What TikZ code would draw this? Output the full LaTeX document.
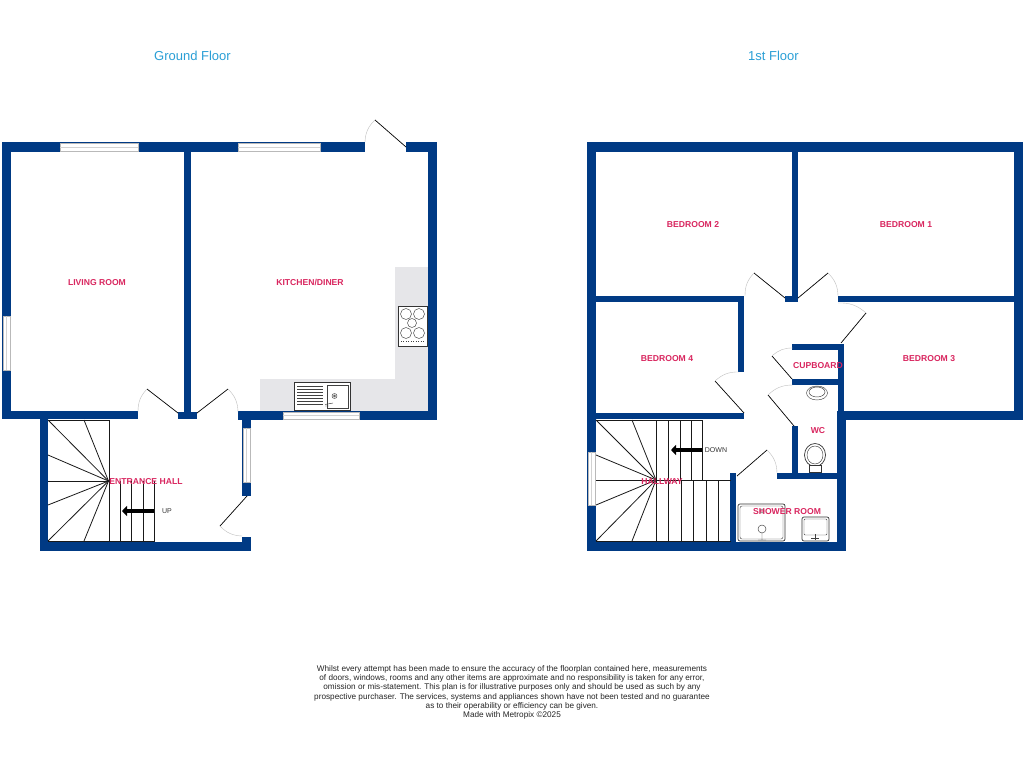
\documentclass[tikz,border=0pt]{standalone}
\usepackage{fontspec}
\setmainfont{Liberation Sans}
\usetikzlibrary{arrows.meta}
\definecolor{wallblue}{HTML}{003A84}
\definecolor{counter}{HTML}{E6E6E9}
\definecolor{titleblue}{HTML}{2A9FD6}
\definecolor{roomred}{HTML}{D9265F}
\tikzset{
    wall/.style={fill=wallblue,draw=none},
    windowpane/.style={fill=white,draw=gray!55,line width=0.8pt},
    doorleaf/.style={black,line width=0.7pt},
    doorswing/.style={gray!50,line width=0.4pt},
    tread/.style={black!90,line width=0.8pt},
    fitting/.style={black!80,line width=0.7pt,fill=white},
    fittingthin/.style={black!75,line width=0.45pt},
    flight/.style={-{Triangle[length=5pt,width=10pt]},line width=4.5pt,black,shorten <=0pt},
    floortitle/.style={text=titleblue,font=\fontsize{13}{15}\selectfont},
    roomlabel/.style={text=roomred,font=\fontsize{8.6}{10}\selectfont\bfseries,inner sep=0pt},
    stairlabel/.style={text=black!80,font=\fontsize{7}{9}\selectfont,inner sep=0pt},
}
\begin{document}
\begin{tikzpicture}[x=1pt,y=-1pt]
    \useasboundingbox[fill=white] (0,0) rectangle (1024,768);

    \node[floortitle] (groundtitle) at (192.5,55.5) {Ground Floor};
    \node[floortitle] (firsttitle) at (773.5,55.5) {1st Floor};

    % kitchen units
    \fill[counter] (395,267) rectangle (428,411) (260,379) rectangle (395,411);

    % ground floor walls
    \foreach \xa/\ya/\xb/\yb in {2/142/365/152, 406/142/437/152, 2/142/11/419, 428/142/437/420,
        184/152/191/413, 178/412/197/419, 2/411/138/419, 238/411/437/420, 40/411/48/551,
        242/419/251/496, 242/537/251/551, 40/542/251/551}
        \fill[wall] (\xa,\ya) rectangle (\xb,\yb);

    % first floor walls
    \foreach \xa/\ya/\xb/\yb in {587/142/1023/152, 587/142/596/551, 1014/142/1023/420, 587/542/846/551,
        837/411/846/551, 837/411/1023/420, 792/152/798/302, 785/296/798/302, 596/296/744/302,
        838/296/1014/302, 738/296/744/372, 596/413/744/419, 792/344/844/350, 838/344/844/420,
        792/379/838/385, 792/426/798/479, 777/473/837/479, 730/473/736/542}
        \fill[wall] (\xa,\ya) rectangle (\xb,\yb);

    % windows
    \foreach \xa/\ya/\xb/\yb in {60/143/138/151, 238/143/320/151, 283/412/359/419, 3/316/10/370,
        243/428/250/482, 588/452/595/505}
        \draw[windowpane] (\xa,\ya) rectangle (\xb,\yb);
    \foreach \xa/\ya/\xb/\yb in {60/147/138/147, 238/147/320/147, 283/415.5/359/415.5, 6.5/316/6.5/370,
        246.5/428/246.5/482, 591.5/452/591.5/505}
        \draw[gray!35,line width=0.5pt] (\xa,\ya) -- (\xb,\yb);

    % doors: hinge, tip of leaf, end of swing, bend
    \foreach \hx/\hy/\tx/\ty/\ex/\ey/\bnd in {406/147/375/120/365/142/-22, 178/413/147/389/138/412/-22,
        197/413/228/389/238/412/22, 247/496/220/526/242/536/-22, 785/298/754/273/745/296/-22,
        798/298/828/273/838/296/22, 841/343/866/313/838/303/-22, 744/413/715/381/739/372/22,
        792/379/772/356/793/348/22, 794/426/768/395/793/385/22, 737/476/767/450/777/473/22} {
        \draw[doorleaf] (\hx,\hy) -- (\tx,\ty);
        \draw[doorswing] (\tx,\ty) to[bend left=\bnd] (\ex,\ey);
    }

    % ground floor stairs
    \draw[tread] (48,420) -- (109,420) -- (109,541) (48,541) -- (154,541) -- (154,481);
    \foreach \xa/\ya in {48/420, 84/420, 48/455, 48/481, 48/505, 48/541, 84/541}
        \draw[tread] (108.5,481) -- (\xa,\ya);
    \foreach \x in {120,131,143}
        \draw[tread] (\x,481) -- (\x,541);
    \coordinate (upfrom) at (154,511);
    \coordinate (upto) at (122,511);
    \draw[flight] (upfrom) -- (upto);
    \node[stairlabel] (uplabel) at (167,511) {UP};

    % first floor stairs
    \draw[tread] (596,420) -- (702,420) -- (702,480) (596,480) -- (731,480) (596,541) -- (731,541) (656,420) -- (656,541);
    \foreach \xa/\ya in {596/420, 632/420, 596/455, 596/505, 596/541, 632/541}
        \draw[tread] (656,480) -- (\xa,\ya);
    \foreach \x in {668.5,680,691}
        \draw[tread] (\x,420) -- (\x,480);
    \foreach \x in {668.5,681,693,706,718}
        \draw[tread] (\x,480) -- (\x,541);
    \coordinate (downfrom) at (702,450);
    \coordinate (downto) at (671,450);
    \draw[flight] (downfrom) -- (downto);
    \node[stairlabel] (downlabel) at (716,450) {DOWN};

    % hob
    \draw[fitting] (398,306) rectangle (427,346);
    \foreach \cx/\cy/\r in {406/314/5.5, 419/314/5.5, 412/323/4.5, 406/333/5.5, 419/333/5.5}
        \draw[fittingthin] (\cx,\cy) circle (\r);
    \draw[fittingthin,dotted] (401,341.5) -- (424,341.5);

    % sink
    \draw[fitting] (294,382) rectangle (350,410);
    \draw[fittingthin] (327,385) rectangle (348,408);
    \foreach \y in {386,389,392,395,398,401,404}
        \draw[fittingthin] (297,\y) -- (323,\y);
    \draw[fittingthin] (334.5,396) circle (2.5) (334.5,396) circle (1);
    \draw[fittingthin] (325,404.5) -- (333,403) (325,406) -- (329,406);

    % wash basin and toilet
    \draw[fittingthin] (817,393) ellipse (10.5 and 7) (817,392) ellipse (8 and 5);
    \draw[fitting] (815,455) ellipse (10.5 and 11.5);
    \draw[fittingthin] (815,455) ellipse (8 and 9);
    \draw[fitting] (809,465) rectangle (821,472);

    % shower tray
    \draw[fitting,rounded corners=2pt] (738,504) rectangle (785,541);
    \draw[fittingthin,rounded corners=2pt] (740,506) rectangle (783,539);
    \draw[fittingthin] (762,529) circle (4) (762,533) -- (762,540) (758,540) -- (766,540);
    \draw[fittingthin] (762,511) circle (2);

    % basin
    \draw[fitting,rounded corners=2pt] (802,517) rectangle (829,541);
    \draw[fittingthin,rounded corners=1pt] (804,519) rectangle (827,535);
    \draw[fittingthin] (811,538) -- (819,538) (815,534) -- (815,540);

    % room names
    \foreach \name/\lx/\ly/\txt in {living/97/282.5/LIVING ROOM, kitchen/310/282.5/KITCHEN\slash DINER,
        entrance/146/482/ENTRANCE HALL, bedone/906/224.5/BEDROOM 1, bedtwo/693/224.5/BEDROOM 2,
        bedthree/929/358.5/BEDROOM 3, bedfour/667/358.5/BEDROOM 4, cupboard/818/366/CUPBOARD,
        wc/818/430.5/WC, hallway/662/482/HALLWAY, shower/787/512/SHOWER ROOM}
        \node[roomlabel] (\name) at (\lx,\ly) {\txt};

    \node[align=center,inner sep=0pt,text=black!85,font=\fontsize{8.2}{9.3}\selectfont] (disclaimer) at (512,692.5)
        {Whilst every attempt has been made to ensure the accuracy of the floorplan contained here, measurements\\
        of doors, windows, rooms and any other items are approximate and no responsibility is taken for any error,\\
        omission or mis-statement. This plan is for illustrative purposes only and should be used as such by any\\
        prospective purchaser. The services, systems and appliances shown have not been tested and no guarantee\\
        as to their operability or efficiency can be given.\\
        Made with Metropix ©2025};
\end{tikzpicture}
\end{document}
